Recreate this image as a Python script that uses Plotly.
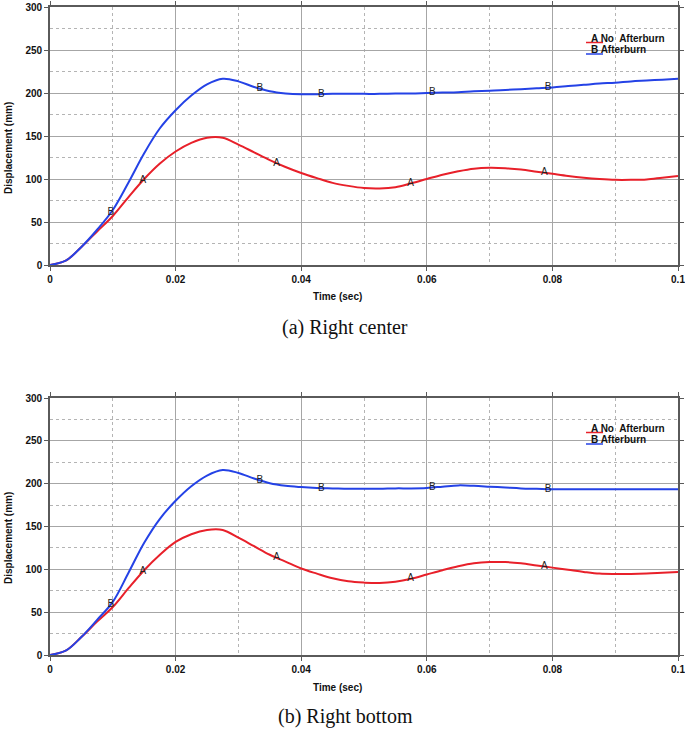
import numpy as np
import plotly.graph_objects as go

# ---------------- data ----------------
time_s = [0, .0025, .005, .0075, .01, .0125, .015, .0175, .02, .0225, .025, .0275, .03, .0325,
          .035, .0375, .04, .0425, .045, .0475, .05, .0525, .055, .0575, .06, .0625, .065, .0675,
          .07, .0725, .075, .0775, .08, .0825, .085, .0875, .09, .0925, .095, .0975, .1]

# (a) Right center
center_no_afterburn = [0, 5, 21, 39, 57, 79, 100, 118, 132, 142, 148, 148, 140, 131,
                       122, 114, 107, 101, 95.5, 92, 89.5, 89, 90.5, 95, 100, 105, 109, 112,
                       113, 112.5, 111, 108.5, 106, 103.5, 101.5, 100, 99, 99, 99.5, 101.5, 103.5]
center_afterburn = [0, 5, 21, 41, 64, 96, 130, 159, 180, 197, 210, 216.5, 213.5, 207,
                    202, 199.5, 198.5, 198.5, 199, 199, 199, 199, 199.5, 199.5, 200, 200.5, 201, 202,
                    202.5, 203.5, 204.5, 205.5, 206.5, 208, 209.5, 211, 212, 213.5, 214.5, 215.5, 216.5]

# (b) Right bottom
bottom_no_afterburn = [0, 5, 21, 39, 56, 78, 99, 117, 132, 141, 146, 146, 137, 127,
                       117, 109, 101, 95, 89.5, 86, 84.5, 84, 85.5, 89, 94, 99, 103.5, 107,
                       108.5, 108.5, 107, 104.5, 102, 99.5, 97, 95, 94.5, 94.5, 95, 96, 97]
bottom_afterburn = [0, 5, 21, 41, 62, 96, 131, 159, 180, 197, 209.5, 216, 212.5, 206,
                    200.5, 197.5, 196, 195, 194.5, 194, 194, 194, 194.5, 194.5, 195, 196.5, 198, 197.5,
                    196.5, 195.5, 194.5, 194, 193.5, 193.5, 193.5, 193.5, 193.5, 193.5, 193.5, 193.5, 193.5]

x_ticks = [0, 0.02, 0.04, 0.06, 0.08, 0.1]
x_ticklabels = ["0", "0.02", "0.04", "0.06", "0.08", "0.1"]
x_minor = [0.01, 0.03, 0.05, 0.07, 0.09]
y_ticks = [0, 50, 100, 150, 200, 250, 300]
y_minor = [25, 75, 125, 175, 225, 275]

series_names = ["No\u00a0 Afterburn", "Afterburn"]
label_times_A = [0.0148, 0.0361, 0.0574, 0.0787]
label_times_B = [0.0097, 0.0334, 0.0432, 0.0609, 0.0793]
captions = ["(a) Right center", "(b) Right bottom"]
x_title = "Time (sec)"
y_title = "Displacement (mm)"

RED = "#e8202a"
BLUE = "#2442e6"

W, H = 685, 730
L, R = 50, 7
PW = W - L - R

def px_x(p):
    return (p - L) / PW

def px_y(p):
    return min(1.0, max(0.0, 1 - p / H))

panels = [
    dict(data=(center_no_afterburn, center_afterburn), top=7, bottom=265,
         ytitle_y=148, xtitle_y=297, caption_y=328, leg_y=38),
    dict(data=(bottom_no_afterburn, bottom_afterburn), top=398, bottom=655,
         ytitle_y=538, xtitle_y=687, caption_y=716, leg_y=428),
]

fig = go.Figure()
annotations = []
shapes = []
font_b = dict(family="Liberation Sans, Arial, sans-serif", size=10, color="#111111", weight="bold")

for i, p in enumerate(panels):
    xa = "x" if i == 0 else "x2"
    ya = "y" if i == 0 else "y2"
    a_vals, b_vals = p["data"]
    for vals, col in [(a_vals, RED), (b_vals, BLUE)]:
        fig.add_trace(go.Scatter(x=time_s, y=vals, mode="lines",
                                 line=dict(color=col, width=2, shape="spline", smoothing=1.0),
                                 xaxis=xa, yaxis=ya, showlegend=False, hoverinfo="skip"))
    for lt, vals, letter in [(label_times_A, a_vals, "A"), (label_times_B, b_vals, "B")]:
        fig.add_trace(go.Scatter(x=lt, y=list(np.interp(lt, time_s, vals)), mode="text",
                                 text=[letter] * len(lt), textposition="middle center",
                                 textfont=dict(family="Liberation Sans, Arial, sans-serif", size=10, color="#222222"),
                                 xaxis=xa, yaxis=ya, showlegend=False, hoverinfo="skip"))
    annotations.append(dict(text=y_title, textangle=-90, x=px_x(8), y=px_y(p["ytitle_y"]), xref="paper", yref="paper",
                            showarrow=False, font=font_b, xanchor="center", yanchor="middle"))
    annotations.append(dict(text=x_title, x=px_x(337), y=px_y(p["xtitle_y"]), xref="paper", yref="paper",
                            showarrow=False, font=font_b, xanchor="center", yanchor="middle"))
    annotations.append(dict(text=captions[i], x=px_x(345), y=px_y(p["caption_y"]), xref="paper", yref="paper",
                            showarrow=False,
                            font=dict(family="Liberation Serif, Times New Roman, serif", size=20, color="#111111"),
                            xanchor="center", yanchor="middle"))
    for k, (col, letter, nm) in enumerate([(RED, "A", series_names[0]), (BLUE, "B", series_names[1])]):
        ty = p["leg_y"] + k * 11.5
        annotations.append(dict(text=letter + " " + nm, x=px_x(589), y=px_y(ty), xref="paper", yref="paper",
                                showarrow=False, font=font_b, xanchor="left", yanchor="middle"))
        shapes.append(dict(type="line", xref="paper", yref="paper", x0=px_x(586), x1=px_x(603),
                           y0=px_y(ty + 4.5), y1=px_y(ty + 4.5), line=dict(color=col, width=1.5)))

axis_common = dict(
    showgrid=True, gridcolor="#a6a6a6", gridwidth=1,
    showline=True, linecolor="#5a5a5a", linewidth=1.6, mirror="ticks",
    ticks="outside", ticklen=4, tickcolor="#5a5a5a",
    tickfont=dict(family="Liberation Sans, Arial, sans-serif", size=10, color="#111111", weight="bold"),
    ticklabeloverflow="allow",
    zeroline=False,
)
xcommon = dict(axis_common, range=[0, 0.1], tickmode="array", tickvals=x_ticks, ticktext=x_ticklabels,
               minor=dict(tickmode="array", tickvals=x_minor, showgrid=True, griddash="dot",
                          gridcolor="#b4b4b4", gridwidth=1))
ycommon = dict(axis_common, range=[0, 300], tickmode="array", tickvals=y_ticks,
               minor=dict(tickmode="array", tickvals=y_minor, showgrid=True, griddash="dot",
                          gridcolor="#b4b4b4", gridwidth=1))

fig.update_layout(
    width=W, height=H,
    margin=dict(l=L, r=R, t=0, b=0, autoexpand=False),
    paper_bgcolor="white", plot_bgcolor="white",
    xaxis=dict(xcommon, domain=[0, 1], anchor="y"),
    yaxis=dict(ycommon, domain=[px_y(panels[0]["bottom"]), px_y(panels[0]["top"])], anchor="x"),
    xaxis2=dict(xcommon, domain=[0, 1], anchor="y2"),
    yaxis2=dict(ycommon, domain=[px_y(panels[1]["bottom"]), px_y(panels[1]["top"])], anchor="x2"),
    annotations=annotations,
    shapes=shapes,
    showlegend=False,
)

fig.write_html("out.html", config={"displayModeBar": False},
               post_script="document.body.style.margin='0';document.body.style.overflow='hidden';")
